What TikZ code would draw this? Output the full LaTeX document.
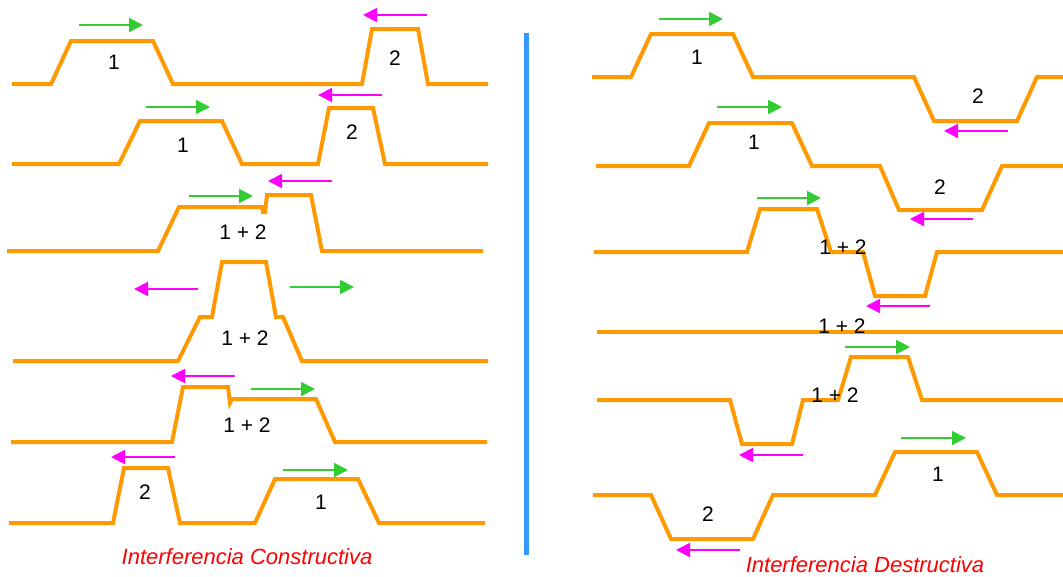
\documentclass[tikz,border=0pt]{standalone}
\usepackage{fontspec}
\setmainfont{Liberation Sans}
\usetikzlibrary{arrows.meta}
\definecolor{wave}{HTML}{FF9900}
\definecolor{grn}{HTML}{33CC33}
\definecolor{mag}{HTML}{FF00FF}
\definecolor{sep}{HTML}{3399FF}
\definecolor{cap}{HTML}{FF0000}
\tikzset{
  wavepath/.style={draw=wave,line width=4pt,line join=miter},
  rarrow/.style={draw=grn,fill=grn,line width=2pt,-{Triangle[length=14pt,width=14pt]}},
  larrow/.style={draw=mag,fill=mag,line width=2pt,-{Triangle[length=14pt,width=14pt]}},
  lbl/.style={font=\fontsize{21}{21}\selectfont,inner sep=0pt,anchor=center},
  captxt/.style={text=cap,font=\fontsize{22}{22}\selectfont\itshape,inner sep=0pt,anchor=center},
}
\begin{document}
\begin{tikzpicture}[x=1pt,y=-1pt]
\useasboundingbox (0,0) rectangle (1063,576);
% separator
\coordinate (s1) at (526,33);
\coordinate (s2) at (526,555);
\draw[sep,line width=5pt] (s1) -- (s2);

%% ---------- LEFT: constructive ----------
% row 1
\draw[wavepath] (12,84) -- (51,84) -- (71,41) -- (153,41) -- (173,84) -- (362,84) -- (372,29) -- (418,29) -- (428,84) -- (488,84);
\node[lbl] (l1a) at (114,62) {1};
\node[lbl] (l1b) at (395,58) {2};
\coordinate (g1a) at (79,25); \coordinate (g1b) at (143,25);
\draw[rarrow] (g1a) -- (g1b);
\coordinate (m1a) at (427,15); \coordinate (m1b) at (363,15);
\draw[larrow] (m1a) -- (m1b);

% row 2
\draw[wavepath] (12,164) -- (119,164) -- (140,121) -- (222,121) -- (242,164) -- (318,164) -- (329,108) -- (373,108) -- (385,164) -- (488,164);
\node[lbl] (l2a) at (183,145) {1};
\node[lbl] (l2b) at (352,132) {2};
\coordinate (g2a) at (146,107); \coordinate (g2b) at (210,107);
\draw[rarrow] (g2a) -- (g2b);
\coordinate (m2a) at (382,95); \coordinate (m2b) at (318,95);
\draw[larrow] (m2a) -- (m2b);

% row 3
\draw[wavepath] (7,251) -- (158,251) -- (179,207) -- (262,207) -- (263,212) -- (265,212) -- (267,195) -- (311,195) -- (322,251) -- (483,251);
\node[lbl] (l3) at (243,232) {1 + 2};
\coordinate (g3a) at (189,196); \coordinate (g3b) at (253,196);
\draw[rarrow] (g3a) -- (g3b);
\coordinate (m3a) at (332,181); \coordinate (m3b) at (268,181);
\draw[larrow] (m3a) -- (m3b);

% row 4
\draw[wavepath] (13,361) -- (178,361) -- (200,317) -- (212,317) -- (222,262) -- (266,262) -- (276,317) -- (283,317) -- (302,361) -- (488,361);
\node[lbl] (l4) at (245,338) {1 + 2};
\coordinate (m4a) at (198,289); \coordinate (m4b) at (134,289);
\draw[larrow] (m4a) -- (m4b);
\coordinate (g4a) at (290,287); \coordinate (g4b) at (354,287);
\draw[rarrow] (g4a) -- (g4b);

% row 5
\draw[wavepath] (11,442) -- (172,442) -- (183,387) -- (228,387) -- (230,403) -- (232,399) -- (316,399) -- (335,442) -- (487,442);
\node[lbl] (l5) at (247,425) {1 + 2};
\coordinate (m5a) at (235,376); \coordinate (m5b) at (171,376);
\draw[larrow] (m5a) -- (m5b);
\coordinate (g5a) at (251,389); \coordinate (g5b) at (315,389);
\draw[rarrow] (g5a) -- (g5b);

% row 6
\draw[wavepath] (9,523) -- (113,523) -- (124,468) -- (168,468) -- (180,523) -- (255,523) -- (275,479) -- (358,479) -- (379,523) -- (485,523);
\node[lbl] (l6a) at (145,492) {2};
\node[lbl] (l6b) at (321,502) {1};
\coordinate (m6a) at (175,457); \coordinate (m6b) at (111,457);
\draw[larrow] (m6a) -- (m6b);
\coordinate (g6a) at (283,470); \coordinate (g6b) at (348,470);
\draw[rarrow] (g6a) -- (g6b);

\node[captxt] (capL) at (247,557) {Interferencia Constructiva};

%% ---------- RIGHT: destructive ----------
% row 1
\draw[wavepath] (592,77) -- (631,77) -- (651,34) -- (733,34) -- (753,77) -- (914,77) -- (934,121) -- (1017,121) -- (1037,77) -- (1063,77);
\node[lbl] (r1a) at (697,57) {1};
\node[lbl] (r1b) at (978,96) {2};
\coordinate (rg1a) at (659,19); \coordinate (rg1b) at (723,19);
\draw[rarrow] (rg1a) -- (rg1b);
\coordinate (rm1a) at (1008,131); \coordinate (rm1b) at (944,131);
\draw[larrow] (rm1a) -- (rm1b);

% row 2
\draw[wavepath] (596,166) -- (689,166) -- (709,123) -- (792,123) -- (812,166) -- (880,166) -- (899,210) -- (982,210) -- (1002,166) -- (1063,166);
\node[lbl] (r2a) at (754,142) {1};
\node[lbl] (r2b) at (940,187) {2};
\coordinate (rg2a) at (717,107); \coordinate (rg2b) at (782,107);
\draw[rarrow] (rg2a) -- (rg2b);
\coordinate (rm2a) at (973,219); \coordinate (rm2b) at (910,219);
\draw[larrow] (rm2a) -- (rm2b);

% row 3
\draw[wavepath] (594,252) -- (747,252) -- (760,209) -- (817,209) -- (831,252) -- (863,252) -- (875,296) -- (925,296) -- (937,252) -- (1063,252);
\node[lbl] (r3) at (843,247) {1 + 2};
\coordinate (rg3a) at (757,198); \coordinate (rg3b) at (821,198);
\draw[rarrow] (rg3a) -- (rg3b);
\coordinate (rm3a) at (930,306); \coordinate (rm3b) at (866,306);
\draw[larrow] (rm3a) -- (rm3b);

% row 4
\draw[wavepath] (597,332) -- (1063,332);
\node[lbl] (r4) at (842,326) {1 + 2};

% row 5
\draw[wavepath] (597,400) -- (730,400) -- (742,444) -- (792,444) -- (803,400) -- (838,400) -- (851,357) -- (908,357) -- (922,400) -- (1063,400);
\node[lbl] (r5) at (835,395) {1 + 2};
\coordinate (rg5a) at (845,347); \coordinate (rg5b) at (910,347);
\draw[rarrow] (rg5a) -- (rg5b);
\coordinate (rm5a) at (803,455); \coordinate (rm5b) at (739,455);
\draw[larrow] (rm5a) -- (rm5b);

% row 6
\draw[wavepath] (593,495) -- (651,495) -- (671,539) -- (753,539) -- (773,495) -- (875,495) -- (895,452) -- (977,452) -- (997,495) -- (1063,495);
\node[lbl] (r6a) at (708,514) {2};
\node[lbl] (r6b) at (938,474) {1};
\coordinate (rg6a) at (901,438); \coordinate (rg6b) at (966,438);
\draw[rarrow] (rg6a) -- (rg6b);
\coordinate (rm6a) at (740,550); \coordinate (rm6b) at (676,550);
\draw[larrow] (rm6a) -- (rm6b);

\node[captxt] (capR) at (865,565) {Interferencia Destructiva};
\end{tikzpicture}
\end{document}
